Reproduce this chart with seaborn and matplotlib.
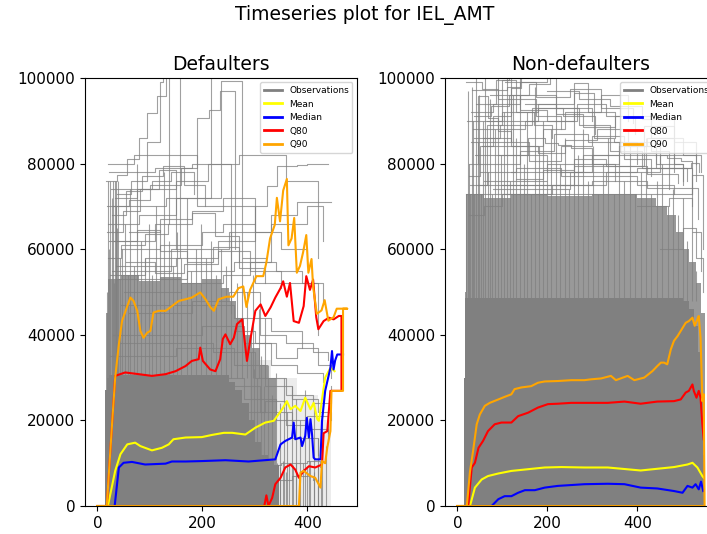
import matplotlib
matplotlib.use("Agg")
import numpy as np
import pandas as pd
import matplotlib.pyplot as plt
import seaborn as sns
from matplotlib.lines import Line2D

# ---------------- titles / labels ----------------
SUPTITLE = "Timeseries plot for IEL_AMT"
PANEL_TITLES = ["Defaulters", "Non-defaulters"]
LEGEND_LABELS = ["Observations", "Mean", "Median", "Q80", "Q90"]
X_TICKS = [0, 200, 400]
Y_TICKS = [0, 20000, 40000, 60000, 80000, 100000]

# ---------------- Defaulters: statistic paths ----------------
L_Q90_X = [0, 18, 28, 34, 41, 47, 57, 63, 69, 76, 82, 88, 95, 101, 107, 117, 130, 142, 155, 168,
           180, 196, 206, 215, 222, 231, 246, 259, 269, 278, 284, 291, 303, 316, 322, 329, 338,
           342, 348, 354, 361, 364, 370, 375, 380, 386, 392, 398, 402, 408, 411, 418, 427, 433,
           440, 450, 456, 476, 468, 468, 446, 444, 438, 434, 428, 425, 415, 406, 393, 387, 384, 0]
L_Q90_Y = [0, 0, 19100, 30000, 37800, 43200, 46700, 48700, 47900, 45600, 40900, 39300, 40500,
           40900, 45200, 45600, 45600, 46700, 47900, 48300, 48700, 49900, 48300, 46500, 45600,
           48300, 48900, 48900, 50900, 51300, 46500, 50500, 53700, 53700, 56900, 62500, 65700,
           72000, 66500, 73700, 76400, 60900, 62500, 67300, 54500, 56100, 59300, 63300, 54500,
           57700, 51300, 44900, 45700, 48100, 43300, 44100, 46100, 46100, 46100, 26900, 26900,
           17500, 13700, 10000, 10500, 4300, 6600, 7000, 8200, 7800, 0, 0]

L_Q80_X = [0, 18, 34, 53, 79, 104, 130, 149, 168, 180, 193, 196, 201, 215, 225, 234, 239, 244,
           253, 260, 266, 276, 285, 291, 301, 311, 320, 330, 339, 349, 354, 361, 367, 374, 384,
           393, 398, 405, 411, 417, 421, 431, 441, 450, 460, 465, 465, 444, 438, 431, 428, 415,
           403, 393, 384, 377, 368, 358, 349, 339, 333, 326, 322, 318, 0]
L_Q80_Y = [0, 0, 30400, 31200, 30800, 30400, 30800, 31500, 32700, 33900, 34300, 37000, 33900,
           31900, 31500, 34300, 39000, 40100, 37800, 39300, 42500, 43600, 33900, 38600, 45600,
           47100, 44400, 46400, 48700, 50900, 52500, 48900, 52100, 43200, 42800, 46700, 53700,
           50500, 52900, 44100, 41300, 43200, 44000, 43600, 44400, 44400, 26900, 26900, 17500,
           17000, 9700, 9000, 9300, 8200, 6600, 8500, 9700, 9000, 6600, 5100, 1900, 0, 2500, 0, 0]

L_MEAN_X = [0, 20, 34, 44, 57, 72, 82, 104, 123, 136, 145, 168, 199, 218, 241, 257, 282, 301,
            320, 336, 352, 361, 368, 377, 387, 396, 406, 412, 419, 422, 434, 444, 452]
L_MEAN_Y = [0, 0, 8200, 12100, 14400, 14800, 14000, 13000, 13600, 14400, 15600, 16000, 16100,
            16600, 17100, 17100, 16700, 18300, 19500, 19900, 22600, 24500, 22600, 23400, 22200,
            25300, 22600, 24100, 20300, 19900, 30000, 32300, 31500]

L_MED_X = [0, 33, 41, 50, 66, 91, 130, 142, 168, 199, 244, 288, 339, 349, 358, 371, 374, 377,
           387, 390, 396, 399, 403, 406, 409, 412, 415, 425, 428, 434, 444, 447, 450, 453, 457, 468]
L_MED_Y = [0, 0, 9000, 10100, 10300, 9700, 9900, 10400, 10400, 10500, 10700, 10400, 10900,
           14400, 15200, 16000, 19500, 15600, 16000, 14000, 16400, 20600, 16000, 20300, 16700,
           11300, 10900, 10900, 19900, 26900, 32300, 36200, 31900, 34000, 35400, 35400]

# ---------------- Non-defaulters: statistic paths ----------------
R_Q90_X = [0, 21, 28, 35, 43, 50, 61, 72, 91, 105, 120, 127, 142, 164, 179, 194, 223, 253, 282,
           297, 319, 341, 352, 378, 393, 415, 433, 444, 452, 459, 466, 474, 481, 489, 496, 507,
           514, 522, 527, 533, 536, 540, 544, 547, 549, 0]
R_Q90_Y = [0, 0, 8000, 12900, 19100, 21400, 23400, 24100, 24900, 25500, 26100, 27300, 27700,
           28000, 28800, 29100, 29200, 29400, 29400, 29600, 29800, 30400, 29400, 30400, 29400,
           30000, 31500, 32700, 33500, 33500, 33100, 36600, 38600, 39700, 40900, 42800, 43200,
           44000, 42100, 43600, 44400, 39300, 24500, 26100, 0, 0]

R_Q80_X = [0, 24, 32, 39, 47, 57, 68, 83, 98, 120, 135, 157, 179, 201, 223, 253, 297, 334, 371,
           407, 444, 481, 496, 507, 514, 522, 525, 531, 536, 540, 544, 547]
R_Q80_Y = [0, 0, 9000, 10100, 13600, 15200, 17500, 19100, 19500, 19500, 21000, 21800, 23000,
           23800, 23900, 24100, 24100, 24100, 24400, 23900, 24400, 24500, 24900, 26500, 26900,
           28400, 26900, 25300, 26900, 25300, 19100, 15600]

R_MEAN_X = [0, 28, 39, 54, 68, 91, 120, 157, 194, 231, 282, 334, 407, 481, 511, 522, 533, 544, 547]
R_MEAN_Y = [0, 0, 4300, 6200, 7000, 7600, 8200, 8600, 9000, 9100, 9000, 9000, 8300, 9100, 9700,
            10100, 9000, 7000, 6600]

R_MED_X = [0, 76, 91, 105, 120, 135, 150, 172, 194, 223, 253, 282, 334, 371, 407, 444, 481, 500,
           511, 522, 529, 536, 541, 546]
R_MED_Y = [0, 0, 1600, 2300, 2300, 3100, 3700, 3700, 4300, 4700, 4900, 5100, 5200, 5100, 4300,
           4100, 3500, 3100, 4700, 4300, 5100, 3900, 5700, 3500]

# ---------------- Observation mass (where many lines overlap) ----------------
L_CORE_X = [15, 18, 22, 240, 250, 262, 275, 288, 300, 312, 325, 336, 346]
L_CORE_TOP = [27000, 30000, 30500, 30500, 29000, 27000, 24000, 20000, 15000, 12000, 10500, 9500, 0]
L_TEX_X = [16, 20, 45, 80, 120, 160, 200, 235, 250, 265, 280, 295, 310, 325, 340]
L_TEX_TOP = [45000, 53000, 54000, 52500, 53500, 52000, 53000, 51000, 48000, 44000, 40000, 37000,
             33000, 30000, 0]
L_TAIL_X = [290, 330, 380, 420, 445]
L_TAIL_TOP = [34000, 30000, 26000, 20000, 0]

R_CORE_X = [14, 18, 500, 515, 525, 535, 540, 545, 549]
R_CORE_TOP = [30000, 48500, 48000, 46000, 42000, 36000, 28000, 12000, 0]
R_TEX_X = [17, 20, 60, 120, 200, 300, 400, 440, 465, 485, 500, 515, 530, 540, 549]
R_TEX_TOP = [50000, 73000, 72000, 73000, 72500, 73000, 72000, 70000, 68000, 64000, 60000, 57000,
             52000, 45000, 0]

# vertical jumps of single observations (x position, top value)
L_SPIKE_X = [19, 21, 23, 25, 27, 29, 31, 33, 35, 36, 38, 40, 43, 47, 52, 58, 63, 70, 76, 84, 90,
             98, 105, 112, 120, 127, 136, 145, 152, 160, 170, 178, 188, 198, 207, 217, 226, 236,
             245, 255, 266, 275, 285, 296, 308, 320]
L_SPIKE_TOP = [50000, 76000, 60000, 76000, 72000, 76000, 52000, 76000, 76000, 70000, 65000,
               76000, 58000, 60000, 66000, 54000, 74000, 56000, 80000, 62000, 58000, 66000, 54000,
               70000, 60000, 78000, 62000, 56000, 64000, 58000, 72000, 55000, 60000, 66000, 58000,
               62000, 54000, 60000, 56000, 64000, 52000, 58000, 50000, 54000, 46000, 44000]
L_MID_SPIKE_X = [292, 298, 305, 311, 318, 326, 333, 340, 347, 355, 362, 370, 378, 386, 395, 404,
                 412, 420, 428, 436]
L_MID_SPIKE_TOP = [36000, 32000, 30000, 35000, 28000, 33000, 26000, 31000, 24000, 30000, 22000,
                   28000, 25000, 20000, 27000, 18000, 24000, 16000, 20000, 14000]
L_LOW_SPIKE_X = [342, 348, 353, 359, 366, 372, 379, 385, 392, 399, 406, 413, 420, 426]
L_LOW_SPIKE_TOP = [10000, 9000, 10500, 8000, 10000, 9500, 10000, 7000, 10000, 9000, 10500, 8000,
                   9500, 6000]

R_SPIKE_X = [20, 23, 26, 29, 32, 35, 38, 41, 45, 49, 53, 57, 62, 67, 72, 78, 84, 90, 96, 103,
             110, 117, 124, 131, 139, 147, 155, 163, 172, 181, 190, 199, 208, 218, 228, 238, 248,
             258, 268, 279, 290, 301, 312, 323, 335, 347, 359, 371, 383, 395, 407, 419, 431, 443,
             455, 467, 479, 490, 500, 510, 520, 530]
R_SPIKE_TOP = [73000, 97000, 80000, 73000, 98000, 90000, 73000, 100000, 85000, 96000, 73000,
               90000, 100000, 78000, 95000, 73000, 88000, 100000, 82000, 92000, 100000, 76000,
               96000, 86000, 100000, 80000, 92000, 73000, 98000, 84000, 90000, 76000, 88000,
               100000, 80000, 86000, 74000, 92000, 82000, 88000, 76000, 84000, 73000, 80000,
               86000, 73000, 82000, 76000, 84000, 73000, 78000, 86000, 73000, 76000, 80000,
               70000, 74000, 68000, 72000, 62000, 64000, 55000]

# ---------------- Individual observation step series ----------------
L_OBS_X = [
    [17, 37, 57, 79, 95, 114, 130],
    [22, 110, 136, 140],
    [24, 90, 157, 160],
    [30, 130, 217, 220],
    [26, 100, 160, 190, 212, 234, 262],
    [20, 80, 150, 236, 275, 320],
    [35, 150, 230, 300, 323, 342, 361, 380, 400, 440],
    [40, 170, 260, 330, 400, 430],
    [28, 140, 250, 330, 380, 445],
    [22, 110, 180, 270, 360, 420],
    [45, 120, 200, 240, 300, 350, 400],
    [18, 60, 100, 150, 210, 255],
    [50, 160, 240, 290, 340, 390, 430],
    [20, 70, 190, 300, 420],
    [60, 180, 250, 310, 360, 410, 440],
    [30, 200, 280, 330, 380, 430],
    [25, 150, 260, 320, 370, 420, 445],
    [40, 220, 300, 360, 410, 445],
    [20, 170, 280, 340, 400, 440],
    [50, 250, 310, 370, 420],
    [30, 280, 350, 400, 425],
    [35, 300, 370, 410],
    [45, 260, 330, 390],
    [60, 120, 180, 240, 300],
    [33, 75, 105, 140, 185],
    [21, 45, 90, 135, 180, 225, 270],
    [27, 55, 85, 125, 165, 205],
    [32, 75, 120, 170, 220, 270, 320],
    [38, 65, 95, 120, 126],
    [55, 110, 165, 230, 290, 350],
    [19, 48, 82, 118, 150],
    [260, 300, 340, 380, 420, 445],
    [280, 320, 360, 400, 440],
]
L_OBS_Y = [
    [76000, 77400, 81000, 86000, 91800, 95700, 130000],
    [62000, 66000, 130000, 130000],
    [54000, 58000, 130000, 130000],
    [70000, 72000, 130000, 130000],
    [74000, 75000, 79000, 90700, 92600, 96900, 60000],
    [66000, 68000, 72000, 99200, 58000, 58000],
    [56000, 58000, 62000, 70000, 74700, 79400, 79400, 79600, 80000, 80000],
    [53000, 55000, 57000, 66000, 70000, 62000],
    [55000, 60000, 64000, 68000, 71000, 71000],
    [78000, 79000, 80000, 82000, 76000, 58000],
    [60000, 61000, 64000, 66000, 64000, 60000, 56000],
    [70000, 71500, 74000, 76000, 80000, 45000],
    [50000, 52000, 54000, 57000, 55000, 52000, 48000],
    [80000, 82000, 70000, 52000, 40000],
    [45000, 48000, 50000, 40000, 38000, 36000, 34000],
    [40000, 42000, 38000, 33000, 31000, 29000],
    [35000, 37000, 33000, 28000, 25000, 22000, 20000],
    [38000, 36000, 30000, 26000, 24000, 28000],
    [28000, 30000, 25000, 20000, 18000, 15000],
    [25000, 28000, 22000, 16000, 12000],
    [8000, 9500, 10000, 10500, 9000],
    [5000, 6000, 7000, 6000],
    [47000, 44000, 41000, 37000],
    [64000, 67000, 69000, 72000, 66000],
    [72000, 74000, 76000, 78000, 73000],
    [58000, 61000, 63500, 66000, 68500, 63000, 57000],
    [68000, 73500, 77000, 79500, 75000, 70000],
    [62000, 64500, 59500, 57000, 60500, 55500, 52000],
    [73000, 76000, 85000, 99000, 130000],
    [57000, 54500, 56500, 59500, 55000, 51000],
    [64000, 69000, 74000, 78500, 60000],
    [41000, 38000, 34500, 37000, 33000, 30000],
    [22000, 24500, 19000, 21000, 17000],
]

R_OBS_X = [
    [32, 60, 110, 140, 200, 260],
    [25, 46, 69, 91, 120, 160, 200],
    [30, 120, 142, 150],
    [40, 157, 194, 223, 253, 300, 350],
    [22, 100, 180, 260, 290, 350],
    [35, 150, 260, 304, 348, 400],
    [50, 130, 230, 330, 400, 480],
    [28, 260, 340, 415, 481, 500],
    [60, 200, 300, 466, 496, 520],
    [80, 250, 400, 518, 536],
    [20, 440, 520, 545],
    [100, 300, 420, 500, 535],
    [380, 420, 480],
    [30, 80, 140, 220, 300],
    [55, 190, 240, 320, 380],
    [120, 280, 360, 440, 500],
    [25, 60, 100, 210, 330, 450, 530],
    [400, 470, 520, 540],
    [450, 500, 530, 545],
    [36, 95, 165, 235, 305],
    [42, 85, 130, 175, 230],
    [48, 140, 215, 290, 370, 430],
    [65, 180, 270, 340, 410, 470],
    [20, 55, 90, 130, 170, 210],
    [38, 75, 115, 160, 205],
    [58, 120, 180, 240, 310, 380, 450],
    [72, 140, 200, 265, 330, 395],
    [90, 160, 230, 300, 370, 440, 510],
    [105, 175, 250, 320, 390],
    [130, 190, 260, 330, 420, 490],
    [150, 220, 280, 350, 430, 500, 540],
    [200, 270, 340, 410, 480, 530],
    [230, 300, 360, 430, 470, 520],
    [25, 50, 80, 120],
    [45, 65, 100, 115],
]
R_OBS_Y = [
    [97300, 97300, 98000, 99000, 130000, 130000],
    [80000, 95700, 90700, 87500, 85000, 82000, 78000],
    [85000, 97700, 130000, 130000],
    [82000, 86000, 84800, 84400, 83700, 80000, 76000],
    [90000, 92000, 94000, 98900, 92000, 86000],
    [88000, 90000, 96500, 86000, 85000, 80000],
    [78000, 79000, 77000, 77000, 75000, 73000],
    [75000, 79400, 79400, 88700, 80000, 75000],
    [76000, 80000, 82000, 81300, 80500, 70000],
    [74000, 78000, 79000, 80200, 78000],
    [72800, 72800, 77400, 60000],
    [75000, 76000, 74300, 74300, 67000],
    [84000, 86000, 78000],
    [92000, 94000, 96000, 93000, 90000],
    [84000, 88000, 92000, 96000, 90000],
    [78000, 82000, 84000, 80000, 76000],
    [68000, 70000, 73000, 75000, 78000, 82000, 76000],
    [70000, 72000, 64000, 55000],
    [60000, 65000, 58000, 50000],
    [86000, 89000, 93000, 91000, 87000],
    [94000, 99500, 95000, 91000, 88000],
    [80000, 83000, 87000, 85000, 81000, 77000],
    [90000, 93000, 89000, 83000, 79000, 74000],
    [99000, 97500, 95000, 92000, 89000, 86000],
    [91000, 93500, 96000, 98500, 130000],
    [86000, 84000, 82500, 85500, 88000, 84000, 80000],
    [96000, 92500, 90000, 94000, 91000, 87000],
    [82000, 80500, 84000, 86500, 82500, 79000, 76000],
    [99000, 95500, 97500, 93000, 89500],
    [76500, 78500, 81000, 79500, 77500, 75500],
    [94000, 91500, 88500, 91000, 86000, 82000, 78000],
    [97000, 95000, 93500, 90500, 85000, 80000],
    [78000, 80000, 85000, 83000, 79000, 73000],
    [77000, 84000, 91000, 130000],
    [75000, 89000, 99500, 130000],
]

X_SPANS = [(0, 471), (0, 549)]
COLORS = {"obs": "grey", "mean": "yellow", "median": "blue", "q80": "red", "q90": "orange"}


def obs_frame(xs_list, ys_list):
    rows = []
    for i, (xs, ys) in enumerate(zip(xs_list, ys_list)):
        for x, y in zip(xs, ys):
            rows.append((i, x, y))
    return pd.DataFrame(rows, columns=["id", "x", "y"])


fig = plt.figure(figsize=(7.07, 5.34), dpi=100)
ax_l = fig.add_axes([0.1202, 0.0524, 0.3847, 0.8016])
ax_r = fig.add_axes([0.6294, 0.0524, 0.3847, 0.8016])

panels = [
    dict(ax=ax_l, title=PANEL_TITLES[0],
         fills=[(L_TEX_X, L_TEX_TOP, 0.8), (L_TAIL_X, L_TAIL_TOP, 0.15), (L_CORE_X, L_CORE_TOP, 1.0)],
         spikes=[(L_SPIKE_X, L_SPIKE_TOP, 30000), (L_MID_SPIKE_X, L_MID_SPIKE_TOP, 0),
                 (L_LOW_SPIKE_X, L_LOW_SPIKE_TOP, 0)],
         obs=(L_OBS_X, L_OBS_Y),
         stats=[(L_MEAN_X, L_MEAN_Y, "mean"), (L_MED_X, L_MED_Y, "median"),
                (L_Q80_X, L_Q80_Y, "q80"), (L_Q90_X, L_Q90_Y, "q90")],
         span=X_SPANS[0]),
    dict(ax=ax_r, title=PANEL_TITLES[1],
         fills=[(R_TEX_X, R_TEX_TOP, 0.8), (R_CORE_X, R_CORE_TOP, 1.0)],
         spikes=[(R_SPIKE_X, R_SPIKE_TOP, 48000)],
         obs=(R_OBS_X, R_OBS_Y),
         stats=[(R_MEAN_X, R_MEAN_Y, "mean"), (R_MED_X, R_MED_Y, "median"),
                (R_Q80_X, R_Q80_Y, "q80"), (R_Q90_X, R_Q90_Y, "q90")],
         span=X_SPANS[1]),
]

for p in panels:
    ax = p["ax"]
    for fx, ftop, a in p["fills"]:
        ax.fill_between(fx, 0, ftop, step="post", color="#808080", alpha=a, lw=0, zorder=1)
    for sx, stop, base in p["spikes"]:
        ax.vlines(sx, base, stop, color="grey", lw=0.8, alpha=0.75, zorder=1.4)
    df = obs_frame(*p["obs"])
    sns.lineplot(data=df, x="x", y="y", units="id", estimator=None, sort=False,
                 drawstyle="steps-post", color=COLORS["obs"], linewidth=0.8, alpha=0.75,
                 legend=False, ax=ax, zorder=1.5)
    for sx, sy, key in p["stats"]:
        sns.lineplot(x=sx, y=sy, sort=False, estimator=None, color=COLORS[key],
                     linewidth=1.5, ax=ax, zorder=2)
    lo, hi = p["span"]
    pad = 0.05 * (hi - lo)
    ax.set_xlim(lo - pad, hi + pad)
    ax.set_ylim(0, 100000)
    ax.set_xticks(X_TICKS)
    ax.set_yticks(Y_TICKS)
    ax.set_xlabel("")
    ax.set_ylabel("")
    ax.tick_params(labelsize=11)
    ax.set_title(p["title"], fontsize=13.5)
    handles = [Line2D([], [], color=COLORS[k], lw=2) for k in ["obs", "mean", "median", "q80", "q90"]]
    ax.legend(handles, LEGEND_LABELS, loc="upper right", fontsize=6.5, framealpha=0.8)

fig.suptitle(SUPTITLE, x=0.516, y=0.972, va="center", fontsize=13.5)
fig.savefig("out.png", dpi=100)
